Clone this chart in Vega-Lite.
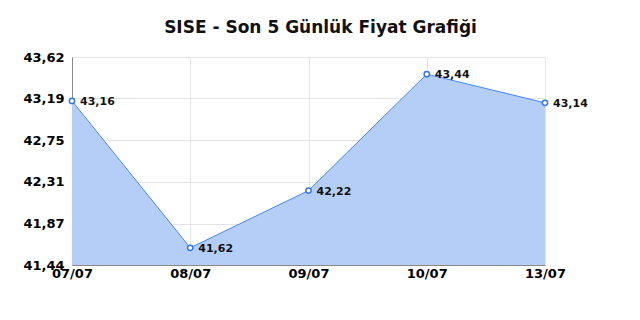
{
  "$schema": "https://vega.github.io/schema/vega-lite/v6.json",
  "width": 640,
  "height": 320,
  "autosize": {"type": "fit", "contains": "padding"},
  "padding": {"left": 22, "right": 52, "top": 19, "bottom": 40},
  "config": {
    "font": "DejaVu Sans",
    "view": {"stroke": null},
    "locale": {"number": {"decimal": ",", "thousands": ".", "grouping": [3], "currency": ["", " TL"]}}
  },
  "title": {"text": "SISE - Son 5 Günlük Fiyat Grafiği", "font": "DejaVu Sans", "fontSize": 17, "fontWeight": "bold", "color": "#111111", "offset": 14, "dx": 12},
  "data": {"values": [
    {"d": "07/07", "v": 43.16},
    {"d": "08/07", "v": 41.62},
    {"d": "09/07", "v": 42.22},
    {"d": "10/07", "v": 43.44},
    {"d": "13/07", "v": 43.14}
  ]},
  "encoding": {
    "x": {"field": "d", "type": "ordinal", "sort": null, "scale": {"type": "point", "padding": 0},
      "axis": {"title": null, "labelAngle": 0, "labelFont": "DejaVu Sans", "labelFontSize": 13, "labelFontWeight": "bold", "labelColor": "#000000", "ticks": false, "labelPadding": 2, "grid": true, "gridColor": "#e4e4e4", "domainColor": "#888888"}},
    "y": {"field": "v", "type": "quantitative", "scale": {"domain": [41.44, 43.62], "zero": false, "nice": false},
      "axis": {"title": null, "values": [41.44, 41.87, 42.31, 42.75, 43.19, 43.62], "format": ".2f", "labelFont": "DejaVu Sans", "labelFontSize": 13, "labelFontWeight": "bold", "labelColor": "#000000", "ticks": false, "labelPadding": 8, "grid": true, "gridColor": "#e4e4e4", "domainColor": "#888888"}}
  },
  "layer": [
    {"mark": {"type": "area", "color": "#b5cef8", "opacity": 1, "line": {"color": "#4a86f0", "strokeWidth": 1}, "clip": true}},
    {"mark": {"type": "point", "shape": "circle", "filled": true, "fill": "#ffffff", "stroke": "#3377ee", "strokeWidth": 1.5, "size": 28, "opacity": 1}},
    {"mark": {"type": "text", "align": "left", "dx": 8, "dy": 1, "font": "DejaVu Sans", "fontSize": 11, "fontWeight": "bold", "color": "#111111"},
     "encoding": {"text": {"field": "v", "type": "quantitative", "format": ".2f"}}}
  ]
}
